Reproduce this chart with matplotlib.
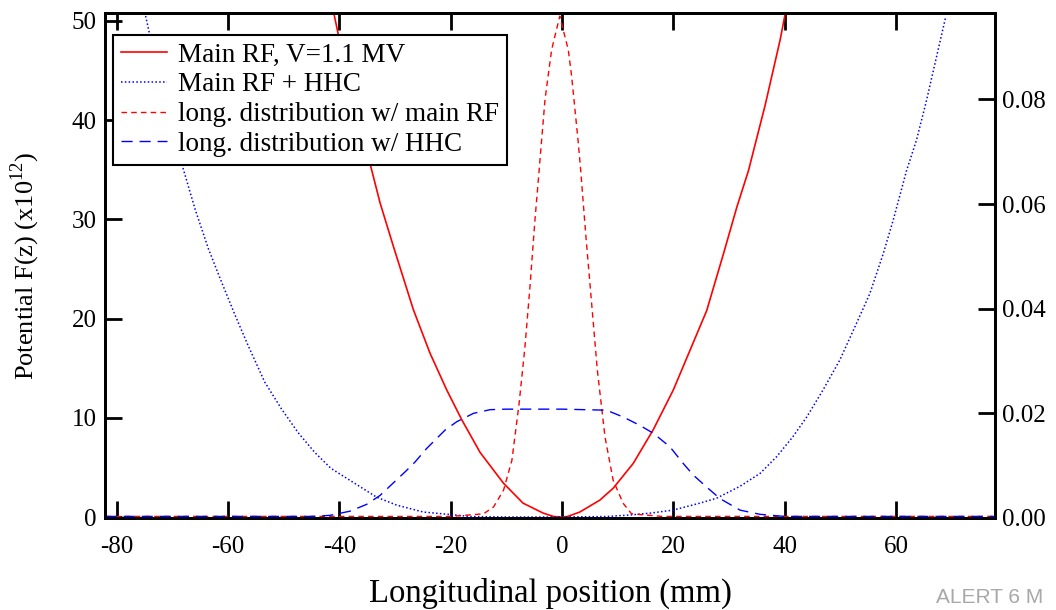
import matplotlib
matplotlib.use("Agg")
import matplotlib.pyplot as plt
from matplotlib.ticker import FormatStrFormatter

plt.rcParams['font.family'] = ['Liberation Serif', 'DejaVu Serif']
plt.rcParams['mathtext.fontset'] = 'custom'
plt.rcParams['mathtext.rm'] = 'Liberation Serif'
plt.rcParams['axes.unicode_minus'] = False

# Potential well, main RF only (units of 1e12)
z_rf = [-41.0, -39.0, -37.0, -34.2, -32.7, -30.3, -26.7, -23.7, -20.7, -18.0, -14.7,
        -10.5, -7.0, -3.4, -1.5, 0.0, 1.0, 3.2, 6.8, 9.2, 12.8, 16.4, 20.0, 23.0,
        26.0, 29.0, 31.4, 33.5, 36.5, 39.2, 40.2]
F_rf = [50.8, 45.5, 41.0, 35.0, 31.7, 27.3, 20.9, 16.5, 12.8, 9.8, 6.5,
        3.4, 1.4, 0.4, 0.05, 0.0, 0.05, 0.5, 1.7, 2.9, 5.4, 8.8, 12.8, 16.8,
        20.8, 26.5, 31.2, 34.9, 41.5, 48.1, 51.0]

# Potential well, main RF + harmonic cavity
z_hhc = [-74.8, -71.5, -68.0, -65.9, -63.5, -61.1, -58.7, -56.4, -53.4, -50.4, -47.4,
         -44.4, -41.5, -38.1, -33.3, -29.7, -24.9, -20.1, -16.5, -10.0, 0.0, 8.0,
         12.2, 16.0, 20.0, 24.8, 27.8, 32.0, 35.6, 38.6, 41.5, 44.0, 46.9, 49.9,
         52.9, 55.3, 57.7, 59.5, 61.9, 63.7, 65.5, 67.3, 68.9]
F_hhc = [50.5, 42.0, 35.0, 31.0, 27.0, 23.6, 20.3, 17.3, 13.6, 10.9, 8.5,
         6.5, 4.9, 3.7, 2.0, 1.2, 0.5, 0.25, 0.05, 0.0, 0.0, 0.05,
         0.2, 0.4, 0.7, 1.4, 1.9, 3.1, 4.4, 6.1, 8.1, 10.1, 12.8, 15.8,
         19.5, 22.5, 26.5, 29.9, 34.9, 38.0, 42.0, 46.4, 50.3]

# Longitudinal bunch distribution, main RF only
z_dist_rf = [-82.0, -20.0, -14.1, -12.3, -10.5, -9.0, -7.7, -6.65, -5.75, -4.85, -4.1,
             -3.65, -3.05, -2.5, -1.85, -0.4, 1.13, 1.74, 2.34, 2.93, 3.36, 4.3,
             5.33, 6.35, 7.73, 9.2, 11.0, 12.5, 18.0, 78.0]
d_rf = [0.0003, 0.0003, 0.0008, 0.0021, 0.0053, 0.011, 0.0219, 0.0327, 0.0442, 0.057, 0.0665,
        0.0723, 0.0799, 0.0844, 0.0895, 0.0959, 0.0895, 0.0844, 0.078, 0.0717, 0.0665, 0.0538,
        0.041, 0.0283, 0.0155, 0.0072, 0.0028, 0.0008, 0.0003, 0.0003]

# Longitudinal bunch distribution with harmonic cavity
z_dist_hhc = [-82.0, -45.0, -41.7, -38.1, -35.1, -32.7, -30.7, -28.2, -26.4, -24.3, -21.0,
              -18.9, -15.9, -12.9, -10.0, 0.0, 8.0, 11.0, 14.0, 16.4, 19.4, 21.8,
              23.6, 26.0, 28.4, 32.0, 35.6, 40.0, 78.0]
d_hhc = [0.0003, 0.0003, 0.0005, 0.0013, 0.0026, 0.0043, 0.0063, 0.0088, 0.0107, 0.0133, 0.0168,
         0.0184, 0.0200, 0.0207, 0.0208, 0.0208, 0.0206, 0.0193, 0.0177, 0.0162, 0.0136, 0.0104,
         0.0082, 0.0059, 0.0037, 0.0015, 0.0007, 0.0003, 0.0003]

labels = ["Main RF, V=1.1 MV", "Main RF + HHC",
          "long. distribution w/ main RF", "long. distribution w/ HHC"]
x_ticks = [-80, -60, -40, -20, 0, 20, 40, 60]
y_ticks = [0, 10, 20, 30, 40, 50]
y2_ticks = [0.00, 0.02, 0.04, 0.06, 0.08]

fig = plt.figure(figsize=(10.56, 6.10), dpi=100)
ax = fig.add_axes([105 / 1056, 92 / 610, 890 / 1056, 505 / 610])
ax2 = ax.twinx()

red = '#ff0000'
blue = '#0000ff'

l1, = ax.plot(z_rf, F_rf, color=red, lw=1.2, ls='-')
l2, = ax.plot(z_hhc, F_hhc, color=blue, lw=1.1, ls=(0, (1, 1.5)))
l3, = ax2.plot(z_dist_rf, d_rf, color=red, lw=1.0, ls=(0, (4, 3)))
l4, = ax2.plot(z_dist_hhc, d_hhc, color=blue, lw=1.0, ls=(0, (8, 5)))

ax.set_xlim(-82.1, 77.8)
ax.set_ylim(-0.1, 50.8)
ax2.set_ylim(0.0, 0.0965)

ax.set_xticks(x_ticks)
ax.set_yticks(y_ticks)
ax2.set_yticks(y2_ticks)
ax2.yaxis.set_major_formatter(FormatStrFormatter('%.2f'))

for a in (ax, ax2):
    for s in a.spines.values():
        s.set_linewidth(2.0)
ax.tick_params(axis='x', which='major', direction='in', length=12, width=2,
               top=True, labelsize=18, pad=13)
ax.tick_params(axis='y', which='major', direction='in', length=12, width=2,
               labelsize=18, pad=6)
ax2.tick_params(axis='y', which='major', direction='in', length=12, width=2,
                labelsize=18, pad=5)

ax.set_xlabel("Longitudinal position (mm)", fontsize=23.5, labelpad=14)
ax.set_ylabel("Potential F(z) (x10$^{12}$)", fontsize=19, labelpad=21)

leg = ax2.legend([l1, l2, l3, l4], labels, loc='upper left',
                 bbox_to_anchor=(0.009, 0.957), fontsize=19.5, frameon=True,
                 fancybox=False, framealpha=1.0, edgecolor='black',
                 handlelength=1.7, handletextpad=0.4, borderpad=0.3,
                 labelspacing=0.17, borderaxespad=0.0)
leg.get_frame().set_linewidth(1.5)

fig.text(936 / 1056, 3 / 610, "ALERT 6 M", fontsize=15, color='#a8a8a8',
         family='Liberation Sans', va='bottom', ha='left')

fig.savefig("out.png", dpi=100)
